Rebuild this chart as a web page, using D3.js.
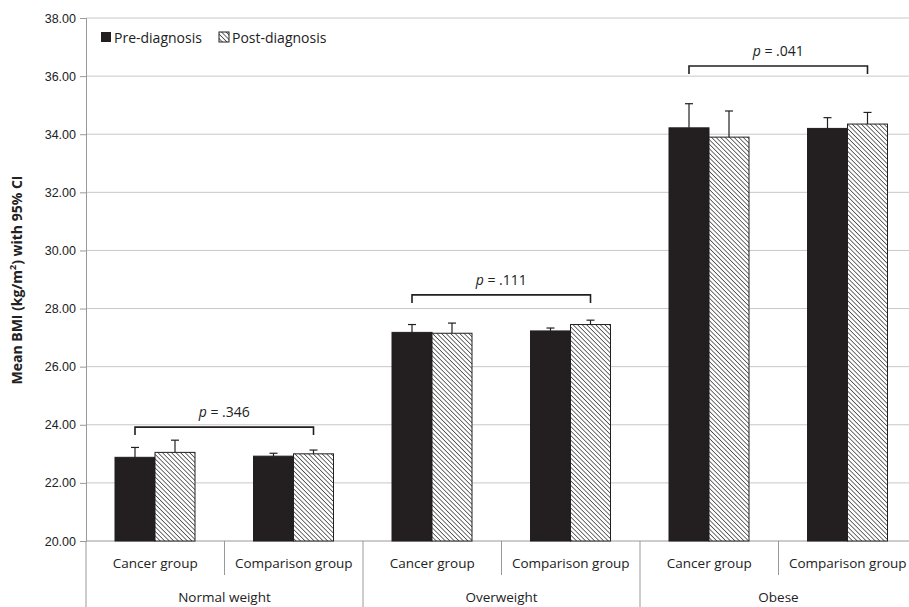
<!DOCTYPE html>
<html><head><meta charset="utf-8">
<script src="https://cdn.jsdelivr.net/npm/d3@7"></script>
<style>body{margin:0;background:#fff}svg{font-family:"Open Sans",sans-serif}</style>
</head><body><svg width="909" height="607"></svg>
<script>
const groups=["Normal weight","Overweight","Obese"];
const subgroups=["Cancer group","Comparison group"];
const series=["Pre-diagnosis","Post-diagnosis"];
const preVals=[22.88,22.92,27.18,27.23,34.22,34.20];
const postVals=[23.05,23.00,27.15,27.45,33.90,34.35];
const preUpper=[23.22,23.02,27.45,27.33,35.05,34.57];
const postUpper=[23.47,23.13,27.50,27.60,34.80,34.75];
const pLabels=[".346",".111",".041"];
const pLevels=[23.92,28.47,36.35];
const yTicks=[20,22,24,26,28,30,32,34,36,38];

const svg=d3.select("svg");
const defs=svg.append("defs");
const pat=defs.append("pattern").attr("id","hatch").attr("patternUnits","userSpaceOnUse")
 .attr("width",3.2).attr("height",3.2).attr("patternTransform","rotate(45)");
pat.append("rect").attr("width",3.2).attr("height",3.2).attr("fill","#fff");
pat.append("line").attr("x1",0).attr("y1",0).attr("x2",3.2).attr("y2",0).attr("stroke","#222").attr("stroke-width",1.3);

const x0=86, slot=138.5;
const y=d3.scaleLinear().domain([20,38]).range([541,18]);
const xs=d3.scaleBand().domain(d3.range(6)).range([x0,x0+slot*6]);
svg.append("g").selectAll("line").data(yTicks.slice(1)).join("line")
 .attr("x1",x0).attr("x2",909).attr("y1",d=>y(d)).attr("y2",d=>y(d)).attr("stroke","#c8c8c8");
const ya=svg.append("g").attr("transform",`translate(${x0},0)`)
 .call(d3.axisLeft(y).tickValues(yTicks).tickFormat(d3.format(".2f")).tickSize(6).tickPadding(4));
ya.selectAll("text").attr("font-size",12.5).attr("fill","#222");
ya.selectAll("line,path").attr("stroke","#999");
svg.append("line").attr("x1",x0).attr("x2",909).attr("y1",541).attr("y2",541).attr("stroke","#999");
svg.append("text").attr("transform","translate(22,280) rotate(-90)").attr("text-anchor","middle")
 .attr("font-size",14).attr("font-weight","bold").attr("fill","#222")
 .html('Mean BMI (kg/m<tspan baseline-shift="super" font-size="9">2</tspan>) with 95% CI');
const bw=40, off=29;
const data=d3.range(6).map(i=>[{v:preVals[i],u:preUpper[i],k:0,i},{v:postVals[i],u:postUpper[i],k:1,i}]).flat();
const bx=d=>xs(d.i)+off+d.k*bw;
svg.append("g").selectAll("rect").data(data).join("rect")
 .attr("x",bx).attr("width",bw).attr("y",d=>y(d.v)).attr("height",d=>541-y(d.v))
 .attr("fill",d=>d.k?"url(#hatch)":"#231f20").attr("stroke","#231f20").attr("stroke-width",1);
const eb=svg.append("g").attr("stroke","#231f20").attr("stroke-width",1.2);
data.forEach(d=>{const cx=bx(d)+bw/2;
 eb.append("line").attr("x1",cx).attr("x2",cx).attr("y1",y(d.v)).attr("y2",y(d.u));
 eb.append("line").attr("x1",cx-4).attr("x2",cx+4).attr("y1",y(d.u)).attr("y2",y(d.u));});
groups.forEach((g,gi)=>{const a=xs(gi*2)+off+bw/2, b=xs(gi*2+1)+off+bw*1.5, yy=y(pLevels[gi]);
 svg.append("path").attr("d",`M${a},${yy+8}V${yy}H${b}V${yy+8}`).attr("fill","none").attr("stroke","#231f20").attr("stroke-width",1.6);
 svg.append("text").attr("x",(a+b)/2).attr("y",yy-10).attr("text-anchor","middle").attr("font-size",14).attr("fill","#222")
  .html(`<tspan font-style="italic">p</tspan> = ${pLabels[gi]}`);
});
const xl=svg.append("g").attr("font-size",13.5).attr("fill","#222").attr("text-anchor","middle");
d3.range(6).forEach(i=>{xl.append("text").attr("x",xs(i)+slot/2).attr("y",568).text(subgroups[i%2]);});
groups.forEach((g,gi)=>xl.append("text").attr("x",xs(gi*2)+slot).attr("y",602).text(g));
const sep=svg.append("g").attr("stroke","#999");
d3.range(7).forEach(i=>{const xx=x0+i*slot; sep.append("line").attr("x1",xx).attr("x2",xx).attr("y1",541).attr("y2",i%2?575:607);});
const lg=svg.append("g").attr("font-size",14).attr("fill","#222");
lg.append("rect").attr("x",101).attr("y",32).attr("width",10).attr("height",10).attr("fill","#231f20");
lg.append("text").attr("x",114).attr("y",43).text(series[0]);
lg.append("rect").attr("x",219).attr("y",32).attr("width",10).attr("height",10).attr("fill","url(#hatch)").attr("stroke","#231f20");
lg.append("text").attr("x",232).attr("y",43).text(series[1]);
</script></body></html>
